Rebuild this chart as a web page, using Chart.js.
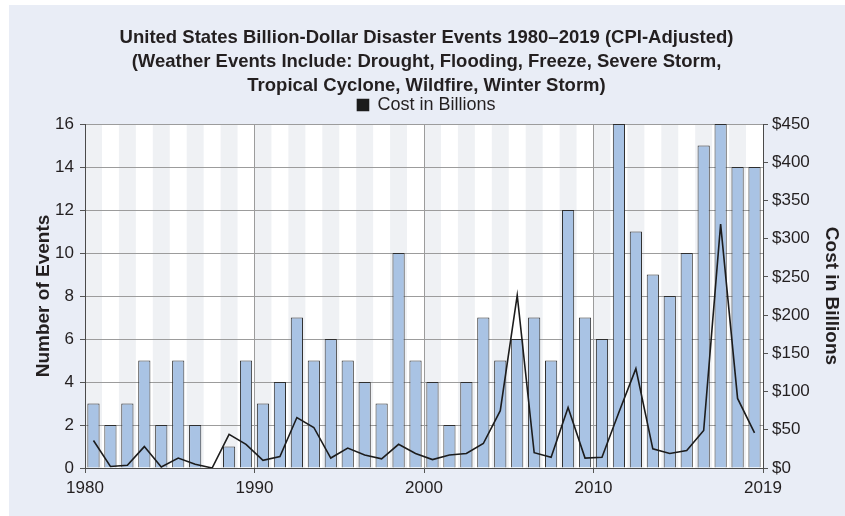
<!DOCTYPE html>
<html>
<head>
<meta charset="utf-8">
<script src="https://cdn.jsdelivr.net/npm/chart.js@4/dist/chart.umd.min.js"></script>
<style>
  html, body { margin: 0; padding: 0; background: #ffffff; }
  #wrap { width: 845px; height: 516px; position: relative; }
</style>
</head>
<body>
<div id="wrap"><canvas id="chart"></canvas></div>
<script>
// Billion-dollar disaster events per year and their CPI-adjusted cost
const years = [
  1980, 1981, 1982, 1983, 1984, 1985, 1986, 1987, 1988, 1989,
  1990, 1991, 1992, 1993, 1994, 1995, 1996, 1997, 1998, 1999,
  2000, 2001, 2002, 2003, 2004, 2005, 2006, 2007, 2008, 2009,
  2010, 2011, 2012, 2013, 2014, 2015, 2016, 2017, 2018, 2019
];
const eventCounts = [
  3, 2, 3, 5, 2, 5, 2, 0, 1, 5,
  3, 4, 7, 5, 6, 5, 4, 3, 10, 5,
  4, 2, 4, 7, 5, 6, 7, 5, 12, 7,
  6, 16, 11, 9, 8, 10, 15, 16, 14, 14
];
const costBillions = [
  36, 2, 3.5, 28, 1.3, 13, 5, 0, 44, 31,
  10, 15, 66, 53, 13, 26, 17, 12, 31, 19,
  11, 17, 19, 32, 75, 226, 20, 14, 79, 13,
  14, 73, 130, 25, 19, 23, 49, 319, 91, 46
];
const xTickValues = [1980, 1990, 2000, 2010, 2020];
const xTickLabels = ['1980', '1990', '2000', '2010', '2019'];

const titleLines = [
  'United States Billion-Dollar Disaster Events 1980\u20132019 (CPI-Adjusted)',
  '(Weather Events Include: Drought, Flooding, Freeze, Severe Storm,',
  'Tropical Cyclone, Wildfire, Winter Storm)'
];

const INK = '#231f20';
const PANEL = '#e9edf6';
const STRIPE = '#eff1f4';
const BAR_FILL = '#a9c3e4';

Chart.defaults.font.family = '"Liberation Sans", Arial, Helvetica, sans-serif';
Chart.defaults.color = INK;

// Panel background, white plot area and alternating year stripes
const backdrop = {
  id: 'backdrop',
  beforeDraw(chart) {
    const { ctx, chartArea: a, scales: { x } } = chart;
    ctx.save();
    ctx.fillStyle = '#ffffff';
    ctx.fillRect(0, 0, chart.width, chart.height);
    ctx.fillStyle = PANEL;
    ctx.fillRect(9, 5, chart.width - 9, chart.height - 5);
    ctx.fillStyle = '#ffffff';
    ctx.fillRect(a.left, a.top, a.right - a.left, a.bottom - a.top);
    ctx.fillStyle = STRIPE;
    years.forEach((yr, i) => {
      if (i % 2 === 0) {
        const l = x.getPixelForValue(yr);
        const r = x.getPixelForValue(yr + 1);
        ctx.fillRect(l, a.top, r - l, a.bottom - a.top);
      }
    });
    ctx.restore();
  }
};

new Chart(document.getElementById('chart'), {
  type: 'bar',
  data: {
    datasets: [
      {
        type: 'line',
        label: 'Cost in Billions',
        data: years.map((yr, i) => ({ x: yr + 0.5, y: costBillions[i] })),
        yAxisID: 'y1',
        borderColor: '#1c1c1c',
        backgroundColor: '#1c1c1c',
        borderWidth: 1.6,
        pointRadius: 0,
        tension: 0,
        fill: false,
        order: 0
      },
      {
        type: 'bar',
        label: 'Number of Events',
        data: years.map((yr, i) => ({ x: yr + 0.5, y: eventCounts[i] })),
        yAxisID: 'y',
        backgroundColor: BAR_FILL,
        borderColor: '#2e2e2e',
        borderWidth: 1,
        barPercentage: 0.72,
        categoryPercentage: 1,
        order: 1
      }
    ]
  },
  options: {
    responsive: true,
    maintainAspectRatio: false,
    devicePixelRatio: 1,
    animation: false,
    layout: { padding: { left: 8, right: 0, top: 0, bottom: 0 } },
    plugins: {
      title: {
        display: true,
        text: titleLines,
        color: INK,
        font: { size: 18.5, weight: 'bold', lineHeight: 24 / 18.5 },
        padding: { top: 26, bottom: -5 }
      },
      legend: {
        display: true,
        labels: {
          filter: item => item.datasetIndex === 0,
          boxWidth: 11,
          boxHeight: 11,
          color: INK,
          font: { size: 18 },
          padding: 3
        }
      },
      tooltip: { enabled: false }
    },
    scales: {
      x: {
        type: 'linear',
        min: 1980,
        max: 2020,
        offset: false,
        afterBuildTicks: s => { s.ticks = xTickValues.map(v => ({ value: v })); },
        afterFit: s => { s.height = 48; },
        ticks: {
          autoSkip: false,
          maxRotation: 0,
          padding: 5,
          color: INK,
          font: { size: 17 },
          callback: v => xTickLabels[xTickValues.indexOf(v)]
        },
        grid: { offset: false, color: '#9c9c9c', tickColor: '#555555', tickLength: 5 },
        border: { color: '#4a4a4a', width: 1 }
      },
      y: {
        position: 'left',
        min: 0,
        max: 16,
        afterFit: s => { s.width = 77; },
        ticks: { stepSize: 2, padding: 6, color: INK, font: { size: 17 } },
        grid: { color: '#9c9c9c', tickColor: '#555555', tickLength: 5 },
        border: { color: '#4a4a4a', width: 1 },
        title: {
          display: true,
          text: 'Number of Events',
          color: INK,
          font: { size: 19, weight: 'bold' },
          padding: { top: 24, bottom: 0 }
        }
      },
      y1: {
        position: 'right',
        min: 0,
        max: 450,
        afterFit: s => { s.width = 82; },
        ticks: {
          stepSize: 50,
          padding: 4,
          color: INK,
          font: { size: 17 },
          callback: v => '$' + v
        },
        grid: { drawOnChartArea: false, tickColor: '#555555', tickLength: 5 },
        border: { color: '#4a4a4a', width: 1 },
        title: {
          display: true,
          text: 'Cost in Billions',
          color: INK,
          font: { size: 19, weight: 'bold' },
          padding: { top: 2, bottom: 0 }
        }
      }
    }
  },
  plugins: [backdrop]
});
</script>
</body>
</html>
